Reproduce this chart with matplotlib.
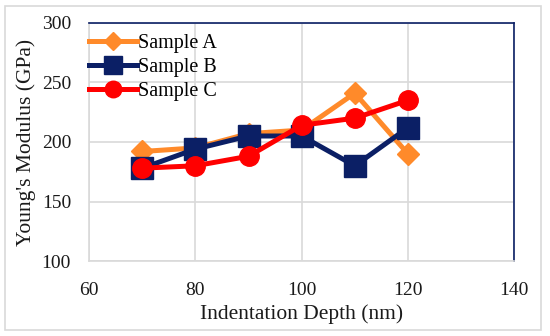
import matplotlib
matplotlib.use("Agg")
import matplotlib.pyplot as plt
from matplotlib.patches import Rectangle

# ── data ─────────────────────────────────────────────────────
depth = [70, 80, 90, 100, 110, 120]
sample_a = [192, 195, 207, 210, 241, 190]
sample_b = [178, 194, 205, 205, 180, 212]
sample_c = [178, 180, 188, 214, 220, 235]

x_ticks = [60, 80, 100, 120, 140]
y_ticks = [100, 150, 200, 250, 300]

ORANGE = "#FF8A2A"
NAVY = "#0B1F65"
RED = "#FF0000"
GRID = "#D9D9D9"

plt.rcParams["font.family"] = ["Liberation Serif", "DejaVu Serif"]

fig = plt.figure(figsize=(5.5, 3.36), dpi=100)
ax = fig.add_axes([0.162, 0.223, 0.773, 0.709])

ax.plot(depth, sample_a, color=ORANGE, lw=3.6, marker="D", ms=11,
        label="Sample A", zorder=3)
ax.plot(depth, sample_b, color=NAVY, lw=3.6, marker="s", ms=16,
        label="Sample B", zorder=4)
ax.plot(depth, sample_c, color=RED, lw=3.6, marker="o", ms=14,
        label="Sample C", zorder=5)

ax.set_xlim(60, 140)
ax.set_ylim(100, 300)
ax.set_xticks(x_ticks)
ax.set_yticks(y_ticks)
ax.grid(True, color=GRID, lw=1.2, zorder=0)
ax.set_axisbelow(True)
ax.tick_params(length=0, labelsize=14, colors="#1a1a1a")
ax.tick_params(axis="y", pad=13)
ax.tick_params(axis="x", pad=15)

for side in ("left", "bottom"):
    ax.spines[side].set_color(GRID)
    ax.spines[side].set_linewidth(1.2)
for side in ("top", "right"):
    ax.spines[side].set_color(NAVY)
    ax.spines[side].set_linewidth(1.2)

ax.set_xlabel("Indentation Depth (nm)", fontsize=15.5, labelpad=4, color="#1a1a1a")
ax.set_ylabel("Young's Modulus (GPa)", fontsize=15.5, labelpad=4, color="#1a1a1a")

leg = ax.legend(loc="upper left", frameon=False, fontsize=14.5, handlelength=2.4,
                handletextpad=0.05, labelspacing=0.25, borderaxespad=0.0,
                borderpad=0.0, bbox_to_anchor=(0.0, 0.955))
for h in leg.legend_handles:
    h.set_markersize(h.get_markersize() * 0.85)

# light grey border around the whole chart
fig.add_artist(Rectangle((5 / 550, 6 / 336), 536 / 550, 324 / 336,
                         transform=fig.transFigure, fill=False,
                         edgecolor="#D9D9D9", lw=1.2))

fig.savefig("out.png", dpi=100)
plt.close(fig)
